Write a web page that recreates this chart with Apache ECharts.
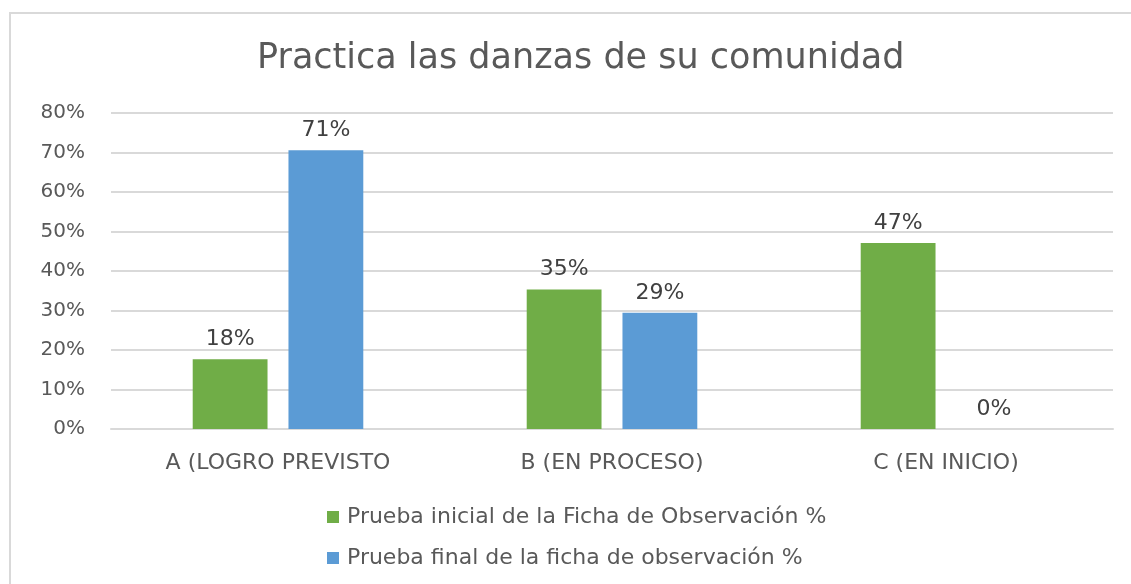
<!DOCTYPE html>
<html>
<head>
<meta charset="utf-8">
<script src="https://cdn.jsdelivr.net/npm/echarts@6/dist/echarts.min.js"></script>
<style>
  html, body { margin: 0; padding: 0; background: #fff; }
  #main { width: 1131px; height: 584px; }
</style>
</head>
<body>
<div id="main"></div>
<script>
var categories = ['A (LOGRO PREVISTO', 'B (EN PROCESO)', 'C (EN INICIO)'];
var inicial = [17.65, 35.29, 47.06];
var final = [70.59, 29.41, 0];
var seriesNames = ['Prueba inicial de la Ficha de Observación %', 'Prueba final de la ficha de observación %'];
var yTicks = [0, 10, 20, 30, 40, 50, 60, 70, 80];

var font = '"DejaVu Sans", "Open Sans", sans-serif';

var chart = echarts.init(document.getElementById('main'));

// etiqueta encima de cada barra
var barLabel = {
    show: true,
    position: 'top',
    distance: 9,
    color: '#404040',
    fontSize: 22,
    fontFamily: font,
    formatter: function (p) { return Math.round(p.value) + '%'; }
};

var option = {
    backgroundColor: '#fff',
    animation: false,
    graphic: [{
        type: 'rect',
        shape: { x: 10, y: 13, width: 1130, height: 600 },
        style: { fill: 'none', stroke: '#d9d9d9', lineWidth: 2 },
        silent: true
    }],
    title: {
        text: 'Practica las danzas de su comunidad',
        left: 252,
        top: 36,
        textStyle: { color: '#595959', fontSize: 35, fontWeight: 'normal', fontFamily: font }
    },
    legend: {
        orient: 'vertical',
        left: 322,
        top: 501,
        itemGap: 19,
        itemWidth: 12,
        itemHeight: 12,
        icon: 'rect',
        textStyle: { color: '#595959', fontSize: 22, fontFamily: font, padding: [0, 0, 0, 3] },
        data: seriesNames
    },
    grid: { left: 111, right: 18, top: 113, bottom: 155, containLabel: false },
    xAxis: {
        type: 'category',
        data: categories,
        axisTick: { show: false },
        axisLine: { lineStyle: { color: '#d9d9d9', width: 2 } },
        axisLabel: { color: '#595959', fontSize: 22, fontFamily: font, margin: 23 }
    },
    yAxis: {
        type: 'value',
        min: yTicks[0],
        max: yTicks[yTicks.length - 1],
        interval: 10,
        axisLine: { show: false },
        axisTick: { show: false },
        splitLine: { lineStyle: { color: '#d9d9d9', width: 2 } },
        axisLabel: {
            color: '#595959', fontSize: 20, fontFamily: font, margin: 26,
            formatter: function (v) { return v + '%'; }
        }
    },
    series: [
        {
            type: 'bar',
            name: seriesNames[0],
            data: inicial,
            barWidth: '22.4%',
            barGap: '28%',
            itemStyle: { color: '#70ad47' },
            label: barLabel
        },
        {
            type: 'bar',
            name: seriesNames[1],
            data: final,
            barWidth: '22.4%',
            barGap: '28%',
            itemStyle: { color: '#5b9bd5' },
            label: barLabel
        }
    ]
};
chart.setOption(option);
</script>
</body>
</html>
